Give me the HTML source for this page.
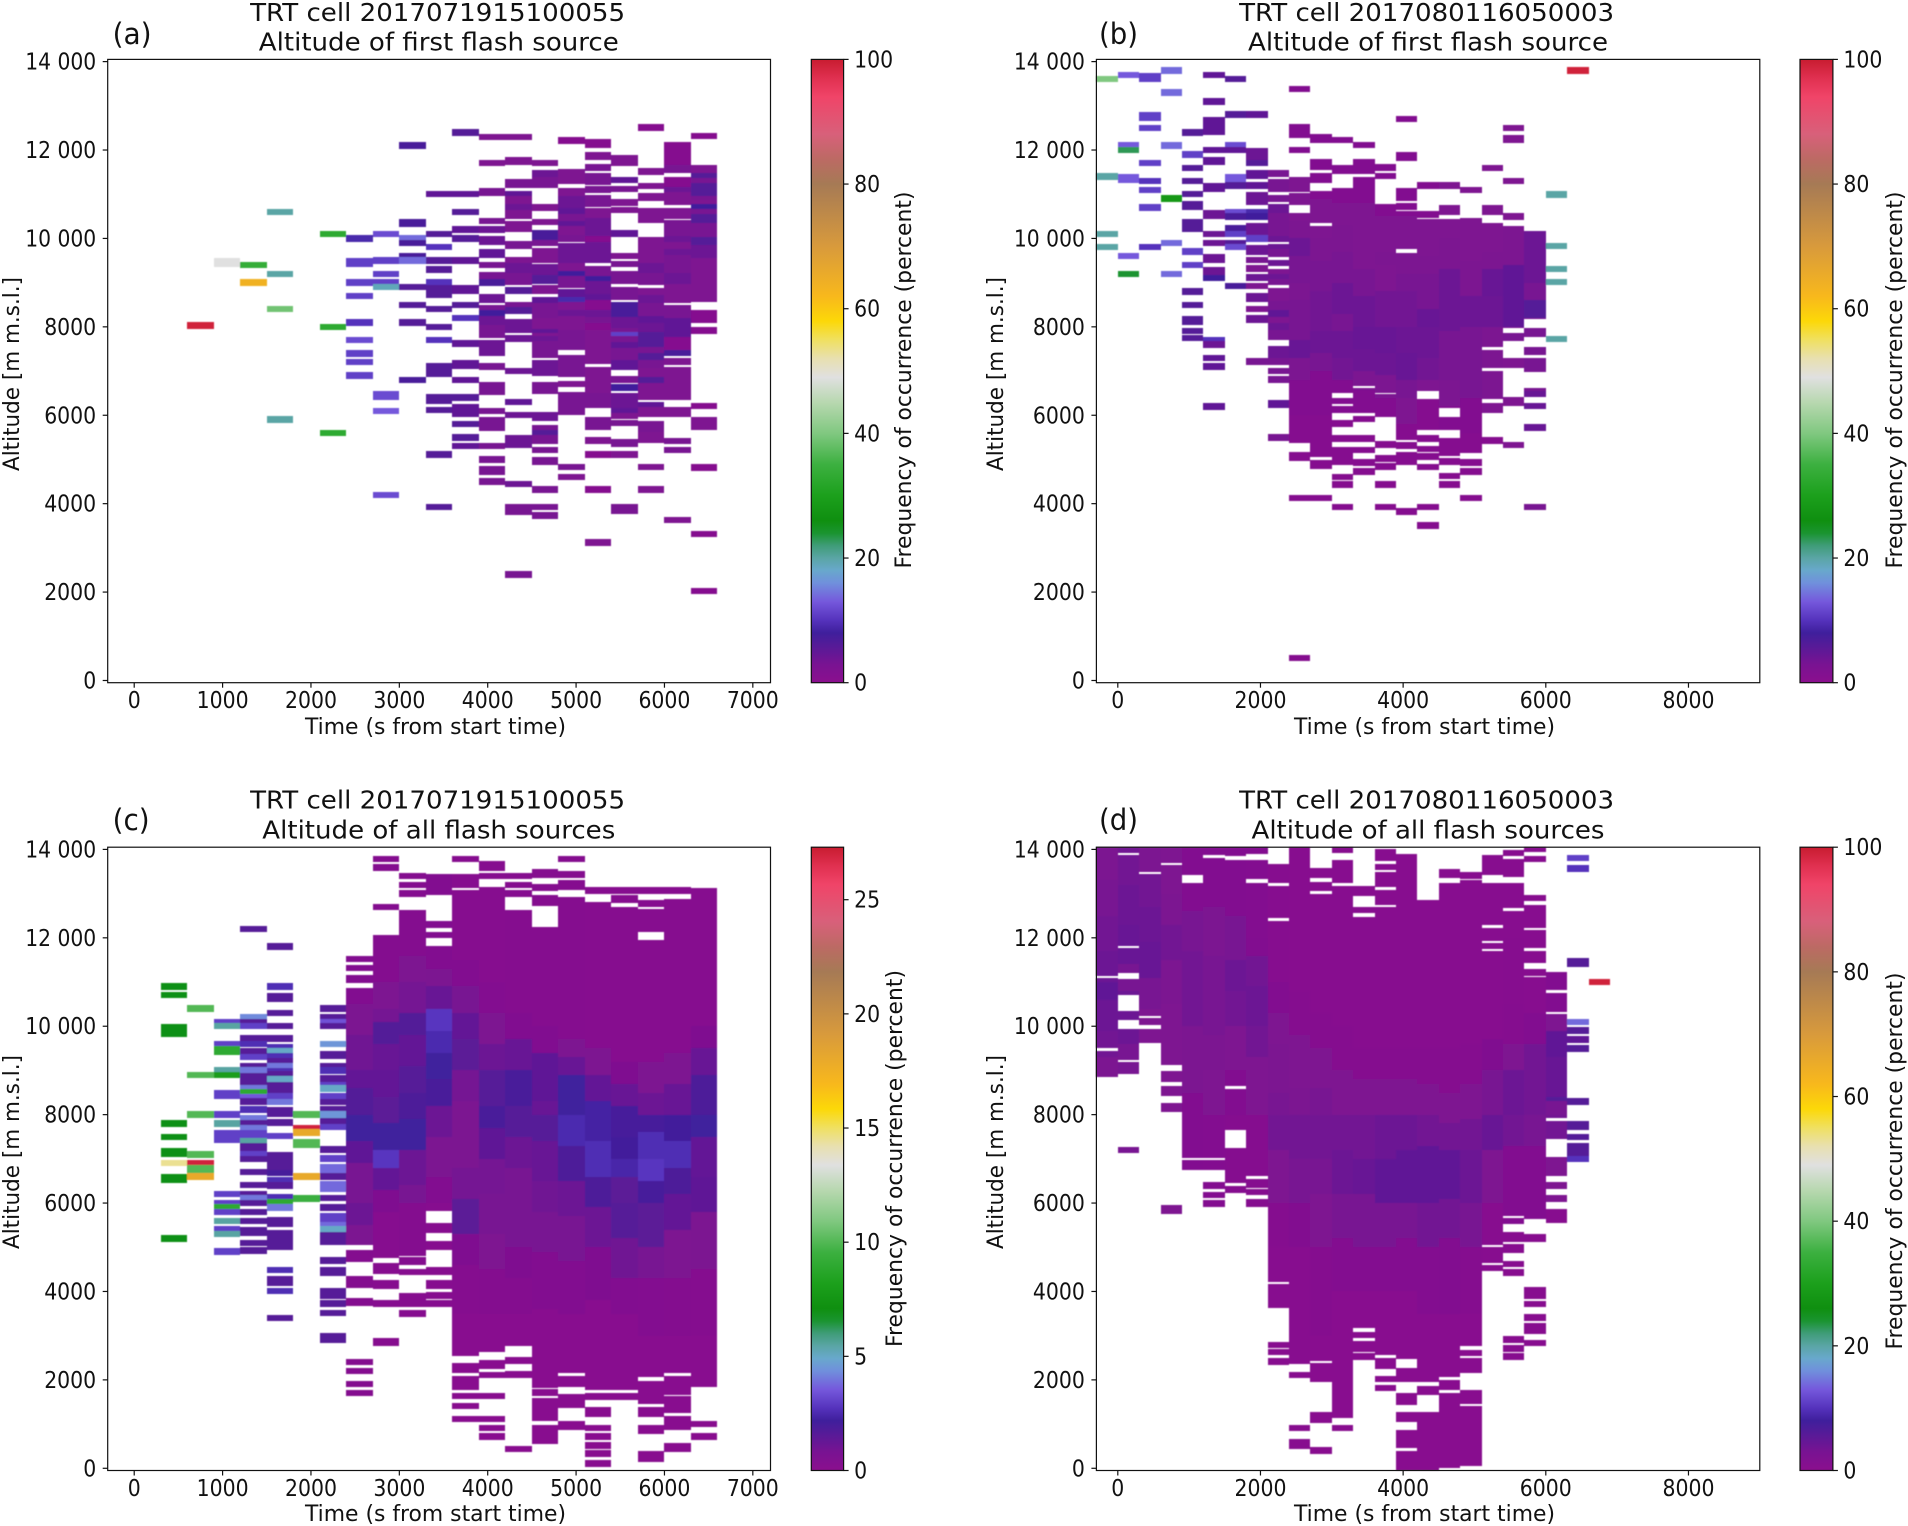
<!DOCTYPE html>
<html><head><meta charset="utf-8"><title>TRT cell altitude frequency panels</title>
<style>
html,body{margin:0;padding:0;background:#fff}
svg{display:block}
text{font-family:"DejaVu Sans","Liberation Sans",sans-serif;fill:#111}
.title{font-size:25px;text-anchor:middle}
.axlab{font-size:22px;text-anchor:middle}
.tag{font-size:29px}
.tick{font-size:23px}
</style></head><body>
<svg id="fig" xmlns="http://www.w3.org/2000/svg" width="1908" height="1526" viewBox="0 0 1908 1526">
<defs><filter id="soft" x="-2%" y="-2%" width="104%" height="104%"><feGaussianBlur stdDeviation="0.45"/></filter></defs>
<rect width="1908" height="1526" fill="#fff"/>
<g id="panel-a">
<text class="tag" x="112.6" y="44" textLength="39" lengthAdjust="spacingAndGlyphs">(a)</text>
<text class="title" x="437.6" y="21" textLength="375" lengthAdjust="spacingAndGlyphs">TRT cell 2017071915100055</text>
<text class="title" x="438.8" y="50.5" textLength="360" lengthAdjust="spacingAndGlyphs">Altitude of first flash source</text>
<text class="axlab" x="435.5" y="734" textLength="261" lengthAdjust="spacingAndGlyphs">Time (s from start time)</text>
<text class="axlab" transform="translate(19,374) rotate(-90)" textLength="194" lengthAdjust="spacingAndGlyphs">Altitude [m m.s.l.]</text>
<text class="axlab" transform="translate(911,380) rotate(-90)" textLength="377" lengthAdjust="spacingAndGlyphs">Frequency of occurrence (percent)</text>
</g>
<g id="panel-b">
<text class="tag" x="1099" y="44" textLength="39" lengthAdjust="spacingAndGlyphs">(b)</text>
<text class="title" x="1426.6" y="21" textLength="375" lengthAdjust="spacingAndGlyphs">TRT cell 2017080116050003</text>
<text class="title" x="1428" y="50.5" textLength="360" lengthAdjust="spacingAndGlyphs">Altitude of first flash source</text>
<text class="axlab" x="1424.5" y="734" textLength="261" lengthAdjust="spacingAndGlyphs">Time (s from start time)</text>
<text class="axlab" transform="translate(1003,374) rotate(-90)" textLength="194" lengthAdjust="spacingAndGlyphs">Altitude [m m.s.l.]</text>
<text class="axlab" transform="translate(1902,380) rotate(-90)" textLength="377" lengthAdjust="spacingAndGlyphs">Frequency of occurrence (percent)</text>
</g>
<g id="panel-c">
<text class="tag" x="112.6" y="830" textLength="37" lengthAdjust="spacingAndGlyphs">(c)</text>
<text class="title" x="437.6" y="808.7" textLength="375" lengthAdjust="spacingAndGlyphs">TRT cell 2017071915100055</text>
<text class="title" x="438.8" y="838.4" textLength="353" lengthAdjust="spacingAndGlyphs">Altitude of all flash sources</text>
<text class="axlab" x="435.5" y="1521" textLength="261" lengthAdjust="spacingAndGlyphs">Time (s from start time)</text>
<text class="axlab" transform="translate(19,1152) rotate(-90)" textLength="194" lengthAdjust="spacingAndGlyphs">Altitude [m m.s.l.]</text>
<text class="axlab" transform="translate(902,1158.5) rotate(-90)" textLength="377" lengthAdjust="spacingAndGlyphs">Frequency of occurrence (percent)</text>
</g>
<g id="panel-d">
<text class="tag" x="1099" y="830" textLength="39" lengthAdjust="spacingAndGlyphs">(d)</text>
<text class="title" x="1426.6" y="808.7" textLength="375" lengthAdjust="spacingAndGlyphs">TRT cell 2017080116050003</text>
<text class="title" x="1428" y="838.4" textLength="353" lengthAdjust="spacingAndGlyphs">Altitude of all flash sources</text>
<text class="axlab" x="1424.5" y="1521" textLength="261" lengthAdjust="spacingAndGlyphs">Time (s from start time)</text>
<text class="axlab" transform="translate(1003,1152) rotate(-90)" textLength="194" lengthAdjust="spacingAndGlyphs">Altitude [m m.s.l.]</text>
<text class="axlab" transform="translate(1902,1161) rotate(-90)" textLength="377" lengthAdjust="spacingAndGlyphs">Frequency of occurrence (percent)</text>
</g>
</svg>
<script>
// Shared axis ticks
const yTickValues=[0,2000,4000,6000,8000,10000,12000,14000];
const yTickLabels=["0","2000","4000","6000","8000","10 000","12 000","14 000"];
const xTicksLeft=[0,1000,2000,3000,4000,5000,6000,7000];
const xTicksRight=[0,2000,4000,6000,8000];
const cbarTicks100=[0,20,40,60,80,100];
const cbarTicksC=[0,5,10,15,20,25];
// Colour map: percent of scale -> colour
const cmapPos=[0,3,6,8,10,13,16,18,20,22,24,26,30,35,40,45,49,52,55,58,62,70,80,84,88,94,97,100];
const cmapHex=["#8b0f8e","#781392","#551b98","#3f1f9c","#5532bc","#7558dc","#7090dc","#68a8cc","#5aa5a5","#3f9c78","#1a9430","#0f8f10","#1ca01c","#3cb040","#80c880","#b8d8b0","#e0e0e0","#e8e0b0","#f0e060","#fcd808","#f8b81c","#d89a3c","#a67a55","#bc6a64","#d8607a","#f04468","#e03050","#c81c30"];

// Panel (a): start of each 300 s bin; flat triples: low altitude, high altitude, percent
const timeBinsA=[600,900,1200,1500,2100,2400,2700,3000,3300,3600,3900,4200,4500,4800,5100,5400,5700,6000,6300];
const cellsA=[
[7950,8100,99],
[9350,9550,49],
[9350,9450,34,8950,9050,64],
[10550,10650,20,9150,9250,20,8350,8450,39,5850,5950,20],
[10050,10150,33,7950,8050,33,5550,5650,33],
[9950,10050,9,9350,9550,11,8950,9050,11,8650,8750,11,8050,8150,10,7650,7750,12,7350,7450,11,7150,7250,11,6850,6950,11],
[10050,10150,12,9450,9550,11,9150,9250,11,8950,9050,11,8850,8950,19,6350,6550,12,6050,6150,13,4150,4250,12],
[12050,12150,7,10250,10450,7,9950,10050,14,9850,9950,7,9550,9650,7,9450,9550,14,8850,8950,6,8450,8550,6,8050,8150,6,6750,6850,7],
[10950,11050,5,10050,10150,6,9750,9850,10,9450,9550,6,9250,9350,6,8950,9050,10,8650,8950,6,8350,8450,6,7950,8050,6,7650,7750,10,7030,7170,6,6870,7160,6,6250,6490,6,6050,6190,6,5050,5170,6,3850,3990,6],
[12350,12450,6,10950,11050,5,10550,10650,6,10150,10250,5,9950,10050,6,9450,9550,5,8750,8950,5,8450,8550,6,8150,8250,10,7550,7700,5,7050,7250,5,6750,6850,5,6350,6450,6,5950,6250,5,5750,5850,6,5450,5550,6,5250,5350,5],
[12250,12350,2,11650,11750,2,10950,11150,3,10350,10450,3,10150,10250,4,9850,10050,4,9550,9750,5,9350,9450,3,9050,9250,3,8950,9050,7,8550,8750,4,8350,8500,3,8250,8350,8,8050,8250,4,7750,8050,3,7350,7700,4,7050,7150,3,6450,6750,3,6050,6150,3,5650,5950,3,5250,5350,3,4950,5050,3,4650,4850,3,4450,4550,3],
[12250,12350,2,11650,11850,2,11150,11350,3,10950,11050,5,10750,10950,2,10650,10750,4,10450,10650,2,10150,10400,2,9750,9950,3,9450,9550,2,9200,9450,4,8950,9210,3,8750,8900,6,8450,8550,3,8300,8450,6,7870,8170,4,7700,7780,4,6950,7050,4,6250,6350,5,5950,6050,4,5250,5550,4,4400,4500,4,3750,3990,3,2350,2450,3],
[11650,11750,2,11400,11550,4,11150,11400,3,10650,10750,2,10300,10450,2,9950,10190,7,9850,9950,3,9450,9780,2,9170,9430,4,8980,9170,6,8750,8950,2,8550,8670,5,8200,8550,3,7930,8200,2,7820,7930,5,7750,7820,2,7670,7750,4,7290,7670,3,6880,7250,4,6470,6750,3,5860,6080,4,5650,5770,3,5550,5650,6,5350,5550,3,5150,5280,3,4880,5060,3,4250,4400,3,3860,3990,3,3680,3780,3],
[12170,12260,1,11230,11560,2,10960,11130,2,10670,10960,4,10560,10670,5,10370,10560,3,10280,10370,5,10080,10280,2,9910,10080,3,9450,9890,4,9250,9450,2,9140,9250,8,8880,9140,3,8650,8850,5,8570,8650,9,8380,8570,2,8250,8380,4,7930,8250,2,7700,7930,3,7480,7700,3,6870,7360,3,6650,6760,2,6000,6530,3,4780,4880,3,4550,4670,2],
[12040,12260,1,11770,11960,2,11550,11660,3,11210,11470,3,11060,11160,3,10720,10980,3,10460,10680,2,10280,10460,4,10040,10280,4,9930,10040,1,9590,9930,4,9450,9590,4,9130,9370,3,9040,9130,8,8720,9040,4,8610,8720,5,8380,8610,1,8230,8380,4,8080,8230,3,7930,8080,1,7170,7930,2,6500,7090,2,6160,6500,3,5670,5970,3,5370,5480,2,5050,5170,1,4250,4400,1,3060,3190,2],
[11640,11890,2,11250,11400,5,11060,11170,3,10760,10870,2,10570,10720,2,10040,10190,5,9550,9650,2,9380,9470,3,8980,9270,3,8610,8910,3,8230,8570,7,7970,8230,4,7850,7970,3,7760,7850,11,7660,7760,3,7530,7660,5,7250,7530,3,7030,7250,5,6740,6890,3,6570,6680,8,6160,6500,4,6010,6160,5,5950,6010,2,5760,5880,3,5280,5460,3,5050,5170,2,3770,3990,3],
[12440,12590,1,11460,11560,2,11110,11260,2,10840,11030,2,10340,10680,2,9440,10040,2,9210,9440,4,8950,9210,3,8720,8870,2,8530,8720,4,8240,8530,3,8080,8240,5,7890,8080,4,7550,7890,6,7400,7550,3,7250,7400,6,7060,7250,3,6870,7060,2,6720,6870,6,6350,6720,2,6180,6290,5,5950,6180,2,5630,5870,3,5370,5630,2,4780,4880,2,4250,4400,2],
[11660,12190,1,11470,11660,3,11170,11400,1,11040,11150,4,10760,11040,2,10450,10680,2,10040,10420,3,9930,10040,4,9740,9930,2,9630,9740,4,9210,9630,3,8980,9210,4,8550,8980,2,8190,8490,3,7780,8190,5,7480,7780,1,7360,7460,7,7140,7290,2,6350,7100,2,5950,6180,2,5370,5470,3,5150,5280,3,3570,3690,2],
[12260,12380,1,11470,11660,2,11360,11470,6,11250,11360,3,10950,11250,6,10840,10950,3,10760,10840,2,10640,10760,8,10550,10640,3,10340,10550,6,10040,10340,3,9850,10040,6,9550,9850,4,8560,9550,2,8080,8380,1,7870,7970,1,6160,6270,1,5670,5970,2,4760,4880,1,3270,3370,1,1970,2090,1]
];

// Panel (b): sparse bins as triples, dense bins as occupied altitude pairs with value bands
const timeBinsB=[-300,0,300,600,900,1200,1500,1800,2100,6000,6300];
const cellsB=[
[13550,13650,40,11350,11450,20,10050,10150,20,9750,9850,20],
[13650,13750,13,12050,12150,13,11950,12050,23,11250,11450,13,9550,9650,13,9150,9250,24],
[13550,13750,11,12650,12850,11,12450,12550,11,11650,11750,11,11250,11350,10,11050,11150,11,10650,10750,11,9750,9850,10],
[13750,13850,14,13250,13350,14,12050,12150,14,10850,10950,28,9850,9950,14,9150,9250,14],
[12350,12450,6,11850,11950,11,11550,11650,6,11250,11350,6,10950,11050,6,10650,10850,6,10150,10450,6,9650,9750,11,9350,9450,11,8750,8850,6,8450,8550,6,8050,8250,6,7850,7950,6,7700,7800,6],
[13650,13750,5,13050,13150,5,12350,12750,5,11950,12050,5,11650,11850,5,11050,11250,5,10450,10650,4,10050,10150,4,9850,9950,4,9450,9650,4,9150,9350,4,9050,9150,8,7650,7750,10,7550,7650,4,7250,7350,5,7050,7150,5,6150,6250,5],
[13550,13650,6,12750,12850,6,12050,12150,12,11950,12050,5,11250,11450,13,11150,11250,6,10550,10650,12,10450,10550,7,10150,10300,7,10050,10150,11,9850,9950,6,9750,9850,12,8870,8990,7],
[12750,12850,5,11750,12050,4,11650,11750,6,11350,11550,5,11150,11250,5,10750,11050,4,10550,10650,9,10450,10550,8,10150,10350,4,10050,10150,4,9950,10050,11,9630,9850,4,9450,9570,3,9230,9400,2,9060,9170,4,8870,8990,2,8570,8760,4,8350,8470,2,8080,8270,4,7150,7280,3],
[11400,11550,3,11190,11340,3,11060,11170,3,10830,10980,3,10570,10780,4,10050,10570,3,9930,10050,4,9750,9850,4,9590,9750,3,9400,9480,4,9170,9280,2,9060,9170,4,8970,9060,3,8580,8890,2,8380,8580,3,8230,8380,5,8080,8230,2,7930,8080,4,7700,7930,3,7290,7560,4,7150,7290,3,6930,7070,3,6730,6880,3,6160,6350,5,5440,5550,3],
[10950,11030,20,9755,9890,20,9230,9380,20,8960,9080,20,7670,7780,20],
[13750,13850,99]
];
const denseTimesB=[2400,2700,3000,3300,3600,3900,4200,4500,4800,5100,5400,5700];
const denseSpansB=[
[460,570,4070,4175,4975,5178,5367,10570,10758,11037,11060,11384,11950,12062,12266,12590,13330,13420],
[4070,4175,4780,4990,5065,10290,10360,11080,11250,11470,11550,11790,12170,12360],
[3860,3990,4370,4490,4550,4670,4880,5280,5400,5560,5760,5860,6060,6200,6260,6380,6500,11150,11460,11660,12170,12290],
[4650,4800,4880,4990,5140,5280,5400,5560,5850,5970,6060,6360,6390,6480,6480,6570,6670,11380,11460,11790,12040,12190],
[3860,3990,4370,4490,4780,4900,4980,5070,5290,5380,5960,6480,6500,10780,11360,11470,11550,11660],
[3770,3870,4880,5170,5250,5380,5450,9680,9755,10630,10680,10760,10850,11140,11750,11950,12650,12760],
[3440,3580,3860,3990,4760,4900,4990,5140,5180,5280,5400,5560,5670,6360,6560,10450,10520,10570,11140,11250],
[4370,4490,4550,4690,4880,5030,5080,5480,5670,5970,6160,10450,10540,10760,11140,11250],
[4070,4175,4650,4800,4870,4990,5140,10460,11040,11150],
[5370,5480,6060,6270,6360,6990,7060,7480,7550,10360,10540,10760,11550,11640],
[5280,5380,6260,6360,7060,7290,7670,7870,7970,10270,10430,10560,11240,11360,12150,12350,12430,12560],
[3860,3990,5670,5780,6160,6270,6470,6590,6970,7290,7370,7550,7780,7970,8170,10160]
];
const denseBandsB=[
[12600,1.5,11400,2,10400,2.5,10000,4,9600,3,9000,2.5,8600,3,7700,4.5,7300,2.5,6800,1.5,6000,1],
[12400,1.5,10900,2,10000,2.5,9500,3,8800,3.5,7900,4,7400,3,7000,1.5,6000,1],
[12300,1.5,10800,2,10300,2.5,9700,3,9000,4,8300,3,7900,4,7300,3.5,6800,1.5,6000,1],
[12200,1.5,10800,2,10000,2,9300,3,8700,4,8000,4.5,7500,4,7000,2.5,6500,1.5,6000,1],
[11700,1.5,10500,2,9700,2.5,9400,2,8800,3.5,8000,4.5,7400,4,6900,2.5,6400,1.5,5500,1],
[12800,1.5,10500,2,9800,2.5,9200,3,8800,3.5,8000,4,7400,4.5,6800,3,6400,2,5800,1],
[11300,1.5,10500,2,9600,2.5,9200,3,8400,4.5,8000,4,7300,3.5,6800,2,6400,1],
[10800,2,10000,2.5,9300,4,8500,4,7900,3,7300,3,6800,2.5,6200,1.5,5600,1],
[11200,2,10000,2,9500,2.5,8700,4,8000,3,7400,3,6900,3,6400,1.5,5600,1],
[11700,2,10300,2,9700,2.5,9300,4.5,8700,4,8000,2.5,7400,2.5,6400,2,5600,1],
[12600,2,10300,2.5,9400,5,8700,5,8000,3,7300,2,6300,2],
[10200,4,9400,4,9000,3,8600,6,8200,3,7500,3,6500,4.5,5000,3]
];

// Panel (c)
const timeBinsC=[300,600,900,1200,1500,1800,2100];
const cellsC=[
[10850,10950,7,10650,10750,7,9750,10050,7,7750,7850,7,7450,7550,7,7050,7250,7,6850,6950,14.5,6450,6650,7,5150,5250,7],
[10350,10450,10,8850,8950,10,7950,8050,10,7050,7150,10,6850,6950,27,6650,6850,10,6550,6650,18],
[10050,10150,3,9950,10050,5.5,9550,9650,3,9350,9550,9,8950,9050,5.5,8850,8950,8,8350,8550,3,7950,8050,3,7750,7850,5.5,7350,7650,3,6150,6250,3,5950,6050,3,5850,5950,9,5750,5850,3,5550,5650,5.5,5350,5450,3,5250,5350,5.5,4850,4950,3],
[12150,12250,1.6,10150,10250,4.3,10050,10150,1.6,9950,10050,3,9650,9800,1.6,9550,9650,2.6,9350,9500,1.6,9250,9350,3,9050,9150,1.6,8950,9050,4,8650,8950,1.6,8550,8650,4,8450,8550,9,8350,8450,3.5,8250,8350,1.6,8050,8180,2.6,7860,7960,4,7750,7860,1.6,7650,7750,4,7450,7650,3,7350,7450,5.5,7150,7350,1.6,7050,7150,3,6950,7050,1.6,6650,6750,1.6,6350,6480,1.6,6150,6250,1.6,6050,6150,4,5950,6050,1.6,5750,5850,1.6,5550,5650,1.6,5250,5450,1.6,5050,5150,1.6,4850,5000,1.6],
[11750,11850,1.6,10850,10950,2.6,10550,10750,1.6,10250,10350,1.6,9950,10050,1.6,9650,9800,1.6,9480,9570,2.6,9380,9480,5,9280,9380,2.6,9150,9250,1.6,9050,9130,4,8950,9030,2.6,8860,8950,1.6,8760,8860,5,8480,8730,1.6,8330,8480,3,8250,8330,4,7950,8180,1.6,7760,7880,1.6,7450,7580,3,6750,7160,1.6,6630,6740,2,6450,6580,2.6,6350,6450,1.6,6070,6180,2.6,5950,6070,9,5850,5950,4,5450,5680,1.6,4940,5380,1.6,4440,4540,2.6,4130,4360,1.6,3960,4050,2.6,3330,3460,1.6],
[7950,8050,10,7650,7750,27,7550,7650,18,7250,7450,10,6550,6650,18,6050,6150,9.5],
[10350,10450,1.6,10150,10280,1.6,10050,10150,3.4,9950,10050,1.6,9550,9650,4.5,9250,9450,1.6,9050,9150,1.6,8950,9050,2.6,8710,8890,1.6,8620,8710,3,8560,8620,5,8330,8480,3,8250,8330,1.6,8070,8180,1.6,7950,8050,4.5,7770,7920,1.6,7670,7770,3,7140,7280,1.6,6950,7070,3,6640,6890,3.8,6560,6640,1.6,6250,6490,3.8,6050,6170,1.6,5850,5950,1.6,5540,5770,3,5450,5540,3.8,5350,5450,5,5050,5350,1.6,4620,4770,1.6,4360,4550,1.6,3830,4070,1.6,3670,3780,1.6,3440,3590,1.6,2840,3060,1.6]
];
const denseTimesC=[2400,2700,3000,3300,3600,3900,4200,4500,4800,5100,5400,5700,6000,6300];
const denseSpansC=[
[1650,1760,1830,1980,2130,2260,2350,2470,3670,3850,4080,4360,4660,4930,5050,10860,10970,11160,11240,11390,11450,11580],
[2760,2950,3670,3780,4050,4270,4400,4650,4750,12060,12640,12750,13540,13650,13720,13850],
[3430,3590,3670,3780,3830,3940,4380,4490,4600,4770,4800,12640,12950,13060,13130,13250,13350,13450],
[3670,3780,3830,3990,4050,4270,4380,4550,4930,5150,5320,5540,5810,11810,12000,12140,12250,12360,12970,13450],
[1050,1180,1350,1460,1580,1680,1760,2090,2150,2380,2540,12950,12950,13060,13130,13450,13720,13850],
[640,790,850,970,1050,1180,1580,1680,2060,2160,2240,2460,2640,13160,13350,13450,13520,13740],
[370,490,2060,2190,2380,2490,2770,12640,12950,13060,13130,13250,13350,13450],
[550,980,1060,1580,1660,1770,1810,12250,12710,12960,13050,13220,13350,13550],
[870,1070,1360,1680,1850,2090,2150,12920,13080,13300,13350,13520,13720,13850],
[50,170,280,390,460,580,640,790,850,980,1170,1380,1560,1680,1760,12800,12990,13160],
[1560,1680,1760,12690,12780,12970,13020,13130],
[150,380,780,980,1170,1380,1450,1975,2075,11960,12140,12660,12720,12830,13020,13130],
[370,580,870,1180,1240,1640,1660,2090,2150,12870,12990,13160],
[640,790,940,1070,1850,13130]
];
const denseBandsC=[
[11600,.4,10500,.7,9800,1,9000,1.3,8600,1.7,8000,2.2,7400,1.4,6900,.8,6000,1.1,5500,.7,5000,.3],
[12000,.3,11000,.6,10400,.9,10100,1.7,9600,1.2,9000,1.3,8400,1.5,7800,2.2,7200,2.8,6800,1.3,6300,.5,5800,.2],
[12800,.3,11600,.6,11000,.9,10300,1.7,9800,1.3,9100,1.6,8500,1.8,7900,2.2,7200,1.1,6400,.8,6000,.3,4500,.2],
[12000,.4,11300,.7,10900,1.2,10400,2.8,9900,2.5,9400,2.2,8800,1.9,8200,1.1,7500,.7,6600,.4,6000,.2],
[13000,.2,11500,.4,10900,.8,10300,1.3,9700,1.5,9000,.9,8300,.7,7500,.7,6800,.9,6100,1.5,5300,.5,4600,.25,3500,.15],
[13000,.2,11000,.35,10300,.6,9600,1.1,9000,1.6,8200,1.9,7700,1.4,7000,.9,6200,.8,5300,.55,4500,.3,3500,.15],
[11000,.25,10300,.45,9700,1.2,9000,1.9,8200,1.6,7500,1.1,6800,.8,6000,.8,5000,.5,4300,.3,3500,.15],
[11000,.25,10000,.45,9400,1.4,8300,1.2,8000,1.6,7400,1.2,6500,1,5800,.8,4900,.4,3600,.15],
[10500,.25,9700,.6,9300,1.2,8900,2.2,8000,2.5,7300,1.8,6500,1.1,5700,.8,4700,.4,3500,.15],
[10500,.2,9500,.6,8900,1.3,8300,2.3,7400,2.6,6600,1.8,5900,1.1,5000,.5,3800,.15],
[10000,.2,9200,.5,8700,1.2,8200,2,7500,2.1,7000,2.4,6600,1.5,6000,1.6,5200,1,4300,.4,3500,.15],
[10000,.2,9200,.6,8500,1.1,8000,2,7600,2.6,7000,2.8,6500,2,6000,1.5,5000,.8,4300,.35,3000,.15],
[10000,.2,9400,.6,8700,1.2,8000,2.1,7400,2.6,6800,1.8,6200,1.3,5400,.6,4300,.3,3000,.15],
[11000,.2,10000,.5,9500,1.2,8900,1.8,8000,2.2,7500,1.3,6600,1.4,5800,.7,4500,.25,3000,.15]
];

// Panel (d)
const timeBinsD=[6300,6600];
const cellsD=[
[13750,13850,11,13500,13650,10,11350,11550,6,10050,10150,14,9850,9950,6,9650,9750,5,9450,9550,6,8250,8350,6,7650,7850,6,7450,7550,6,7050,7350,6,6950,7050,10],
[10950,11050,99]
];
const denseTimesD=[-300,0,300,600,900,1200,1500,1800,2100,2400,2700,3000,3300,3600,3900,4200,4500,4800,5100,5400,5700,6000];
const denseSpansD=[
[8850,9450,9500,11090,11130,14050],
[7130,7270,8950,9030,9060,9190,9230,9940,10130,10350,10710,11070,11210,11760,11810,13870,13950,14050],
[9610,9940,10030,10180,10240,13450,13500,14050],
[5750,5950,8060,8260,8430,8650,8730,8980,9120,13650,13700,14050],
[6750,6970,7030,13250,13430,14050],
[5920,6070,6120,6250,6320,6470,6750,6970,7030,13800,13870,14050],
[6230,6390,6450,7250,7660,8590,8640,13760,13840,14050],
[5920,6090,6200,6300,6350,6550,6650,6720,6750,13240,13340,13770,13900,14050],
[2350,2490,2570,2680,2750,2840,3630,4160,4220,12370,12440,13170,13230,13670],
[440,660,840,970,2050,2160,2350,14050],
[340,460,1020,1270,1960,2380,2430,12990,13050,13270,13350,13570],
[840,970,1130,13170,13240,13760,13930,14050],
[2470,2580,2640,2890,2960,3070,3170,12470,12560,12690,12950,13170],
[1760,1870,1960,2090,2250,2490,2560,12690,12750,13090,13150,13490,13540,13670,13730,14000],
[-50,380,450,870,1040,1280,1430,1700,1960,2270,2470,13900],
[-50,1280,1660,1870,1960,12860],
[0,1700,1760,2000,2060,13250,13350,13550],
[50,1400,1460,1770,2150,2490,2560,2660,2770,13300,13350,13470],
[4490,4580,4640,5010,5060,11700,11760,11860,11920,12230,12300,13240,13430,13870],
[2470,2580,2640,2790,2850,2980,4370,4490,4550,4680,4860,5080,5130,5350,5550,5650,5700,12600,12680,13250,13370,13780,13860,13970],
[2770,2890,3040,3280,3360,3470,3660,3780,3840,4090,5130,5290,5640,11120,11180,11250,11430,11700,11760,12170,12220,12750,12840,12950,13710,13850,13980,14050],
[5540,5870,6030,6170,6330,6470,6640,6750,6770,7050,7440,7850,7930,10270,10320,10760,10820,11230]
];
const denseBandsD=[
[14050,2.5,13300,3,12500,3.5,11700,4,11000,5,10600,4,9900,3.5,9300,2.5],
[14000,3.5,13200,4,12300,4.5,11400,3,10800,4,9600,3],
[14000,2.5,13500,3.5,12700,4,11900,4.5,11100,3,10400,2],
[14000,2,13000,2.5,12300,3.5,11500,2.5,10500,2,9500,2],
[14000,1.5,12600,3,11700,3.5,10900,3.5,10000,2.5,8500,1.5],
[14000,1.5,12700,2.5,11600,3,10700,3,9800,2.5,9000,2,8000,1.2],
[14000,1.5,12500,3,11500,4,10800,3.5,10000,2,9000,1.5,8000,1],
[14000,1.2,12000,1.5,11600,3.5,10900,4,10000,3.5,9300,2,8000,1],
[13000,.8,11000,1.5,10300,2,9600,2.5,8500,3,8000,3.5,7200,2,6000,1,5000,.6],
[14050,.6,10800,1,9800,2,8600,2.5,8000,3.5,7000,3,6000,1.5,5000,.6],
[13500,.6,10300,1,9500,2,8600,3,8000,3.5,7000,3,6200,2,5000,1,3000,.5],
[13500,.6,10000,1,9000,2,8000,3.5,7200,4,6200,3,5200,1.2,4000,.5],
[13000,.6,9500,1,8800,2,8000,3.5,7000,4.5,6200,3,5000,1.2,4000,.5],
[13900,.6,9500,1,8800,2,8000,4,7000,5,6000,3,5000,1.2,4000,.5],
[13900,.6,9500,1,8800,2,8000,4,7200,5,6000,3,5200,1.2,4000,.5],
[12800,.6,9500,1,8700,2,8000,3.5,7300,5,6000,3.5,5000,1.2,3500,.5],
[13500,.6,9500,1,8500,2,7800,3.5,7200,5,6100,3.5,5200,1.5,3500,.5],
[13500,.6,9600,1,8700,2,7900,3.5,7200,4,6000,3,5000,1,3500,.5],
[13800,.6,9700,1.8,9000,3,8000,4.5,7200,2,6000,.6],
[13900,.6,12000,.8,10500,1,9600,2,9000,4,8000,3.5,7300,1.5,5500,.6],
[13900,.6,10300,1.5,9600,3.5,8800,3.5,8000,3,7300,1.5,5500,.6],
[11200,1.5,10300,2,9900,5,9300,4.5,8400,6,8300,3,8000,3.5,7300,2,6000,.6]
];

const SVGNS='http://www.w3.org/2000/svg';
function hexRgb(h){return [parseInt(h.slice(1,3),16),parseInt(h.slice(3,5),16),parseInt(h.slice(5,7),16)];}
function colorFor(p){
  p=Math.max(0,Math.min(100,p));
  for(let i=1;i<cmapPos.length;i++){
    if(p<=cmapPos[i]){
      const f=(p-cmapPos[i-1])/(cmapPos[i]-cmapPos[i-1]);
      const a=hexRgb(cmapHex[i-1]),b=hexRgb(cmapHex[i]);
      return 'rgb('+a.map((c,k)=>Math.round(c+(b[k]-c)*f)).join(',')+')';
    }
  }
  return cmapHex[cmapHex.length-1];
}
function make(tag,parent,attrs){
  const el=document.createElementNS(SVGNS,tag);
  for(const k in attrs){el.setAttribute(k,attrs[k]);}
  parent.appendChild(el);
  return el;
}
function labelWidth(s){
  let w=0;
  for(const ch of s){w+=(ch===' ')?6:13;}
  return w;
}
function drawPanel(id,box,cfg){
  const root=document.getElementById('panel-'+id);
  const sx=(box.x1-box.x0)/(cfg.xlim[1]-cfg.xlim[0]);
  const sy=(box.y1-box.y0)/14100;
  const X=t=>box.x0+(t-cfg.xlim[0])*sx;
  const Y=a=>box.y1-(a+50)*sy;
  const V=v=>v/cfg.vmax*100;
  const MIN_PX=6.4;
  const cellsG=make('g',root,{filter:'url(#soft)'});
  
  
  // piece of a bar; isolated thin bars are widened to the minimum visible thickness
  function cell(t,lo,hi,v,thin){
    let top=Y(hi),bot=Y(lo);
    if(thin && bot-top<MIN_PX){
      const mid=(top+bot)/2;
      top=mid-MIN_PX/2;
      bot=mid+MIN_PX/2;
    }
    top=Math.max(box.y0,Math.round(top));
    bot=Math.min(box.y1,Math.round(bot));
    const left=Math.round(X(t));
    const right=Math.round(X(t+300));
    const r=make('rect',cellsG,{x:left,y:top,width:right-left,height:bot-top,fill:colorFor(V(v))});
    
    
  }
  // sparse bins
  cfg.times.forEach((t,i)=>{
    const c=cfg.cells[i];
    for(let j=0;j<c.length;j+=3){cell(t,c[j],c[j+1],c[j+2],true);}
  });
  // dense bins: occupied spans coloured by value bands
  (cfg.denseTimes||[]).forEach((t,i)=>{
    const s=cfg.denseSpans[i],b=cfg.denseBands[i];
    for(let j=0;j<s.length;j+=2){
      const whole=(s[j+1]-s[j])*sy<MIN_PX;
      for(let k=0;k<b.length;k+=2){
        const top=k===0?1e9:b[k];
        const bot=k+2<b.length?b[k+2]:-1e9;
        const lo=Math.max(s[j],bot),hi=Math.min(s[j+1],top);
        if(hi>lo){cell(t,lo,hi,b[k+1],whole);}
      }
    }
  });
  // axes frame
  const frame=make('rect',root,{x:box.x0,y:box.y0,width:box.x1-box.x0,height:box.y1-box.y0,fill:'none',stroke:'#111','stroke-width':1.2});
  
  
  // x ticks
  cfg.xticks.forEach(t=>{
    const l=make('line',root,{x1:X(t),x2:X(t),y1:box.y1,y2:box.y1+5,stroke:'#111','stroke-width':1.2});
    
    
    const s=String(t);
    const tx=make('text',root,{class:'tick',x:X(t),y:box.y1+25.5,'text-anchor':'middle',textLength:labelWidth(s),lengthAdjust:'spacingAndGlyphs'});
    tx.textContent=s;
    
    
  });
  // y ticks
  yTickValues.forEach((a,i)=>{
    const l=make('line',root,{x1:box.x0-5,x2:box.x0,y1:Y(a),y2:Y(a),stroke:'#111','stroke-width':1.2});
    
    
    const s=yTickLabels[i];
    const tx=make('text',root,{class:'tick',x:box.x0-11.5,y:Y(a)+8,'text-anchor':'end',textLength:labelWidth(s),lengthAdjust:'spacingAndGlyphs'});
    tx.textContent=s;
    
    
  });
  // colorbar
  const gid='cmap-'+id;
  const grad=make('linearGradient',root,{id:gid,x1:0,y1:1,x2:0,y2:0});
  cmapPos.forEach((p,i)=>{make('stop',grad,{offset:p+'%','stop-color':cmapHex[i]});});
  const bar=make('rect',root,{x:box.cx0,y:box.y0,width:box.cx1-box.cx0,height:box.y1-box.y0,fill:'url(#'+gid+')',stroke:'#111','stroke-width':1.2});
  
  
  cfg.cticks.forEach(v=>{
    const y=box.y1-(v/cfg.vmax)*(box.y1-box.y0);
    const l=make('line',root,{x1:box.cx1,x2:box.cx1+5,y1:y,y2:y,stroke:'#111','stroke-width':1.2});
    
    
    const s=String(v);
    const tx=make('text',root,{class:'tick',x:box.cx1+10.5,y:y+8,textLength:labelWidth(s),lengthAdjust:'spacingAndGlyphs'});
    tx.textContent=s;
    
    
  });
}
drawPanel('a',{x0:107.7,x1:770.5,y0:59.4,y1:682.7,cx0:811.3,cx1:843.6},{xlim:[-300,7200],vmax:100,times:timeBinsA,cells:cellsA,xticks:xTicksLeft,cticks:cbarTicks100});
drawPanel('b',{x0:1096.4,x1:1759.8,y0:59.4,y1:682.7,cx0:1800,cx1:1832.9},{xlim:[-300,9000],vmax:100,times:timeBinsB,cells:cellsB,denseTimes:denseTimesB,denseSpans:denseSpansB,denseBands:denseBandsB,xticks:xTicksRight,cticks:cbarTicks100});
drawPanel('c',{x0:107.7,x1:770.5,y0:847.2,y1:1470.5,cx0:811.3,cx1:843.6},{xlim:[-300,7200],vmax:27.3,times:timeBinsC,cells:cellsC,denseTimes:denseTimesC,denseSpans:denseSpansC,denseBands:denseBandsC,xticks:xTicksLeft,cticks:cbarTicksC});
drawPanel('d',{x0:1096.4,x1:1759.8,y0:847.2,y1:1470.5,cx0:1800,cx1:1832.9},{xlim:[-300,9000],vmax:100,times:timeBinsD,cells:cellsD,denseTimes:denseTimesD,denseSpans:denseSpansD,denseBands:denseBandsD,xticks:xTicksRight,cticks:cbarTicks100});
</script>
</body></html>
